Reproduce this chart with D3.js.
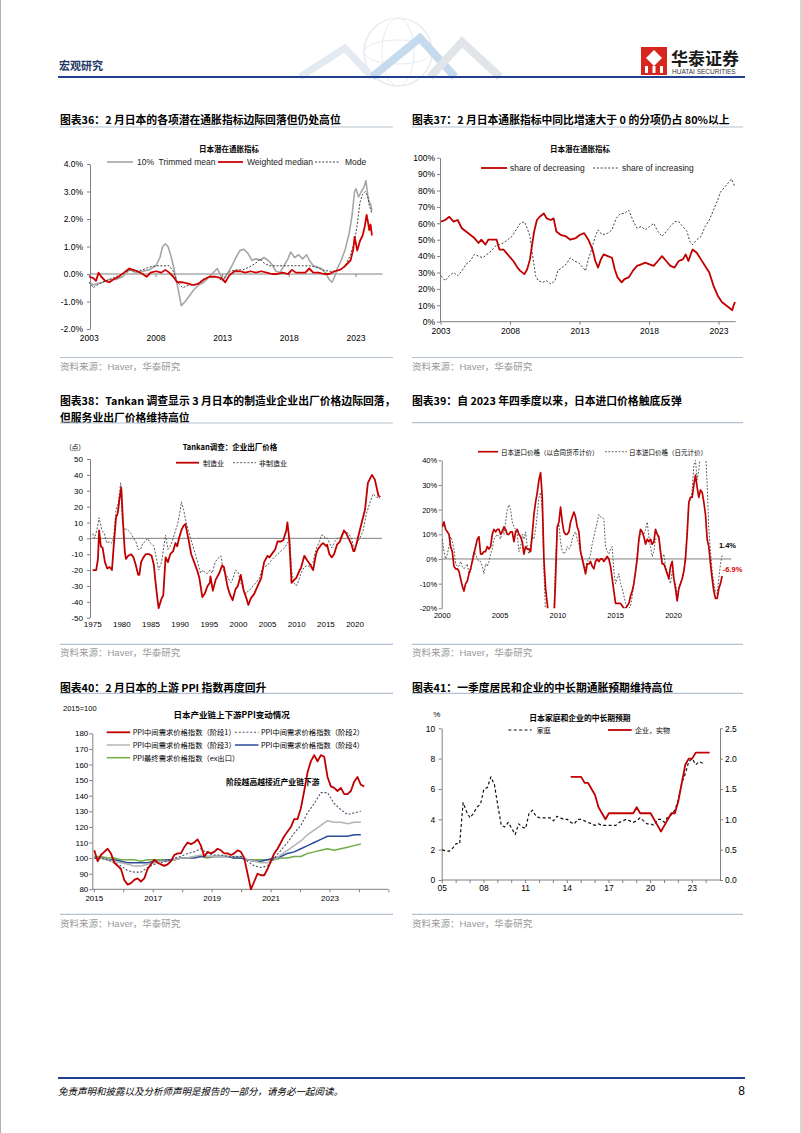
<!DOCTYPE html>
<html><head><meta charset="utf-8">
<script src="https://cdn.jsdelivr.net/npm/d3@7"></script>
<style>body{margin:0;background:#fff}svg{display:block}</style>
</head><body>
<script>
// ================= DATA =================
// Chart 36: Japan underlying inflation indicators (% yoy)
const years36 = [2003, 2008, 2013, 2018, 2023];
const ticks36 = [-2, -1, 0, 1, 2, 3, 4];
const trimmed36 = [[2003.0,-0.3],[2003.3,-0.4],[2003.6,-0.35],[2004.0,-0.3],[2004.5,-0.2],[2005.0,-0.2],[2005.5,-0.1],[2006.0,0.15],[2006.5,0.05],[2007.0,0.1],[2007.5,0.15],[2008.0,0.3],[2008.3,0.6],[2008.5,1.0],[2008.7,1.1],[2008.9,1.0],[2009.1,0.7],[2009.3,0.3],[2009.6,-0.4],[2009.9,-1.15],[2010.2,-1.0],[2010.5,-0.8],[2010.8,-0.6],[2011.2,-0.4],[2011.6,-0.3],[2012.0,-0.1],[2012.4,0.1],[2012.6,0.2],[2012.9,-0.1],[2013.1,-0.2],[2013.4,0.05],[2013.7,0.3],[2014.0,0.6],[2014.3,0.85],[2014.6,0.9],[2014.9,0.75],[2015.2,0.5],[2015.5,0.55],[2015.8,0.5],[2016.1,0.6],[2016.4,0.5],[2016.7,0.35],[2017.0,0.1],[2017.3,0.05],[2017.6,0.3],[2017.9,0.55],[2018.1,0.8],[2018.4,0.6],[2018.7,0.7],[2019.0,0.55],[2019.3,0.7],[2019.5,0.5],[2019.8,0.3],[2020.1,0.25],[2020.4,0.2],[2020.7,0.05],[2021.0,-0.2],[2021.2,-0.3],[2021.4,-0.1],[2021.6,0.2],[2021.9,0.5],[2022.2,0.9],[2022.5,1.5],[2022.7,2.1],[2022.9,3.0],[2023.0,3.1],[2023.2,2.8],[2023.4,3.0],[2023.6,3.15],[2023.75,3.4],[2023.9,2.8],[2024.0,2.6],[2024.1,2.55],[2024.2,2.3]];
const median36 = [[2003.0,-0.1],[2003.3,-0.15],[2003.5,-0.25],[2003.7,0.05],[2003.9,-0.1],[2004.2,-0.25],[2004.5,-0.3],[2004.8,-0.2],[2005.2,-0.1],[2005.6,0.05],[2006.0,0.2],[2006.3,0.15],[2006.6,0.1],[2007.0,0.0],[2007.3,-0.1],[2007.6,0.05],[2008.0,0.1],[2008.4,0.05],[2008.7,0.15],[2009.0,0.05],[2009.3,-0.1],[2009.6,-0.3],[2010.0,-0.3],[2010.4,-0.35],[2010.8,-0.4],[2011.2,-0.35],[2011.6,-0.2],[2012.0,-0.1],[2012.5,-0.1],[2012.9,-0.15],[2013.2,-0.3],[2013.5,-0.05],[2013.9,0.1],[2014.3,0.1],[2014.7,0.05],[2015.1,0.1],[2015.5,0.05],[2015.9,0.1],[2016.3,0.05],[2016.7,0.0],[2017.1,0.0],[2017.5,0.05],[2017.9,0.0],[2018.2,0.15],[2018.5,0.05],[2018.9,0.05],[2019.2,0.05],[2019.5,0.2],[2019.8,0.05],[2020.2,0.05],[2020.6,0.0],[2021.0,0.0],[2021.4,0.1],[2021.8,0.15],[2022.1,0.25],[2022.4,0.4],[2022.6,0.5],[2022.8,0.9],[2022.9,1.35],[2023.0,1.1],[2023.1,0.85],[2023.3,1.2],[2023.5,1.4],[2023.65,1.7],[2023.8,2.15],[2023.9,1.9],[2024.0,1.6],[2024.1,1.8],[2024.2,1.4]];
const mode36 = [[2003.0,-0.3],[2003.3,-0.5],[2003.6,-0.4],[2004.0,-0.3],[2004.5,-0.2],[2005.0,-0.1],[2005.5,0.0],[2006.0,0.15],[2006.5,0.1],[2007.0,0.15],[2007.5,0.25],[2008.0,0.3],[2008.5,0.3],[2009.0,0.3],[2009.3,0.1],[2009.6,-0.3],[2010.0,-0.5],[2010.5,-0.4],[2011.0,-0.4],[2011.5,-0.2],[2012.0,-0.1],[2012.5,-0.1],[2013.0,-0.25],[2013.3,0.0],[2013.6,0.1],[2014.0,0.15],[2014.5,0.15],[2015.0,0.25],[2015.5,0.4],[2015.8,0.55],[2016.1,0.4],[2016.5,0.3],[2017.0,0.3],[2017.5,0.3],[2018.0,0.3],[2018.5,0.3],[2019.0,0.3],[2019.5,0.3],[2020.0,0.25],[2020.5,0.15],[2021.0,0.1],[2021.5,0.1],[2022.0,0.2],[2022.3,0.4],[2022.6,0.7],[2022.9,1.2],[2023.1,1.8],[2023.3,2.6],[2023.5,2.9],[2023.7,3.0],[2023.9,2.8],[2024.0,2.5],[2024.2,2.2]];

// Chart 37: share of items decreasing / increasing (%)
const years37 = [2003, 2008, 2013, 2018, 2023];
const ticks37 = [0,10,20,30,40,50,60,70,80,90,100];
const decreasing37 = [[2003.0,61],[2003.3,62],[2003.6,64],[2003.9,61],[2004.2,62],[2004.5,57],[2004.8,55],[2005.1,53],[2005.4,51],[2005.7,48],[2005.9,50],[2006.2,47],[2006.4,50],[2006.7,50],[2007.0,50],[2007.2,44],[2007.5,44],[2007.7,42],[2007.9,40],[2008.2,37],[2008.5,33],[2008.7,31],[2009.0,29],[2009.2,32],[2009.4,38],[2009.5,44],[2009.7,55],[2009.9,62],[2010.1,64],[2010.4,66],[2010.6,63],[2010.9,62],[2011.1,63],[2011.3,55],[2011.6,53],[2012.0,52],[2012.3,50],[2012.7,51],[2013.0,53],[2013.3,54],[2013.6,50],[2013.9,44],[2014.1,37],[2014.3,33],[2014.5,38],[2014.7,41],[2015.0,40],[2015.3,39],[2015.5,32],[2015.7,27],[2016.0,24],[2016.2,26],[2016.5,27],[2016.8,31],[2017.1,34],[2017.4,35],[2017.7,36],[2018.0,35],[2018.3,34],[2018.6,37],[2018.9,40],[2019.2,37],[2019.5,34],[2019.8,33],[2020.1,37],[2020.4,38],[2020.6,41],[2020.8,37],[2021.0,42],[2021.1,44],[2021.4,42],[2021.7,38],[2022.0,34],[2022.3,30],[2022.6,22],[2022.9,16],[2023.2,12],[2023.5,10],[2023.8,8],[2023.95,7],[2024.05,10],[2024.15,12]];
const increasing37 = [[2003.0,28],[2003.3,25],[2003.6,28],[2003.9,30],[2004.2,28],[2004.5,31],[2004.8,35],[2005.1,37],[2005.4,41],[2005.7,40],[2006.0,39],[2006.3,41],[2006.6,43],[2006.9,46],[2007.2,47],[2007.5,48],[2007.8,50],[2008.1,52],[2008.4,56],[2008.7,60],[2009.0,61],[2009.2,57],[2009.4,52],[2009.6,40],[2009.8,28],[2010.0,25],[2010.3,24],[2010.6,25],[2010.9,23],[2011.2,25],[2011.4,31],[2011.7,33],[2012.0,35],[2012.3,39],[2012.6,37],[2012.9,36],[2013.2,33],[2013.4,31],[2013.6,38],[2013.9,46],[2014.1,52],[2014.3,56],[2014.6,53],[2015.0,54],[2015.3,56],[2015.6,63],[2015.9,66],[2016.2,66],[2016.5,68],[2016.8,62],[2017.1,57],[2017.4,58],[2017.7,56],[2018.0,58],[2018.3,60],[2018.6,55],[2018.9,52],[2019.2,55],[2019.5,58],[2019.8,61],[2020.1,61],[2020.4,58],[2020.7,55],[2020.9,49],[2021.1,47],[2021.4,50],[2021.7,52],[2022.0,58],[2022.3,62],[2022.6,68],[2022.9,74],[2023.1,79],[2023.4,82],[2023.7,85],[2023.9,87],[2024.05,84],[2024.15,82]];

// Chart 38: Tankan output prices DI
const years38 = [1975,1980,1985,1990,1995,2000,2005,2010,2015,2020];
const ticks38 = [-50,-40,-30,-20,-10,0,10,20,30,40,50];
const manuf38 = [[1975.0,-20],[1975.6,-20],[1975.9,-13],[1976.1,5],[1976.4,-5],[1976.7,-6],[1977.1,-15],[1977.5,-19],[1977.9,-18],[1978.3,-20],[1978.6,-5],[1979.0,13],[1979.3,16],[1979.6,25],[1979.9,32],[1980.2,10],[1980.5,-8],[1980.7,-13],[1981.1,-11],[1981.6,-10],[1982.0,-12],[1982.4,-17],[1982.8,-23],[1983.0,-23],[1983.3,-15],[1983.7,-12],[1984.1,-10],[1984.7,-10],[1985.1,-11],[1985.5,-17],[1985.7,-25],[1986.0,-35],[1986.3,-44],[1986.8,-38],[1987.1,-36],[1987.5,-12],[1987.9,-15],[1988.3,-10],[1988.8,-8],[1989.2,-3],[1989.5,-5],[1989.8,0],[1990.2,5],[1990.6,8],[1990.9,9],[1991.4,0],[1991.9,-10],[1992.4,-15],[1992.9,-20],[1993.3,-25],[1993.8,-37],[1994.2,-35],[1994.7,-30],[1995.1,-28],[1995.2,-24],[1995.6,-33],[1996.1,-26],[1996.7,-22],[1997.2,-17],[1997.5,-18],[1998.1,-30],[1998.5,-35],[1999.0,-39],[1999.5,-32],[1999.9,-30],[2000.4,-23],[2000.9,-33],[2001.3,-37],[2001.7,-42],[2002.1,-38],[2002.7,-35],[2003.3,-30],[2003.9,-25],[2004.4,-15],[2005.0,-11],[2005.3,-12],[2005.9,-9],[2006.3,-7],[2006.7,-2],[2007.3,-2],[2007.7,-1],[2008.2,5],[2008.4,10],[2008.7,0],[2009.1,-28],[2009.6,-26],[2009.9,-25],[2010.5,-20],[2010.7,-19],[2011.3,-11],[2011.8,-14],[2012.2,-16],[2012.8,-20],[2013.3,-10],[2013.6,-7],[2014.2,-4],[2014.5,-3],[2015.1,-5],[2015.2,-4],[2015.6,-10],[2016.0,-12],[2016.4,-10],[2016.9,-4],[2017.4,-2],[2017.6,0],[2018.1,5],[2018.5,3],[2018.9,0],[2019.4,-4],[2019.7,-8],[2019.9,-8],[2020.2,-4],[2020.8,5],[2021.7,18],[2022.2,35],[2022.9,40],[2023.4,37],[2024.0,27],[2024.3,26]];
const nonmanuf38 = [[1975.0,3],[1975.3,0],[1975.7,5],[1976.1,13],[1976.6,5],[1977.0,3],[1977.4,-3],[1977.9,-2],[1978.3,-3],[1978.6,0],[1979.0,18],[1979.4,22],[1979.8,35],[1980.1,10],[1980.4,5],[1980.7,6],[1981.1,5],[1981.6,3],[1982.0,0],[1982.4,-2],[1982.8,-7],[1983.2,-7],[1983.6,-3],[1984.0,-2],[1984.4,0],[1984.9,-3],[1985.5,-5],[1985.9,-12],[1986.3,-20],[1986.8,-15],[1987.2,-5],[1987.5,2],[1987.9,-7],[1988.3,-5],[1988.8,0],[1989.2,5],[1989.5,8],[1989.9,15],[1990.2,23],[1990.6,18],[1990.9,12],[1991.4,5],[1991.8,0],[1992.2,-5],[1992.6,-10],[1993.0,-15],[1993.5,-22],[1993.9,-20],[1994.4,-22],[1994.7,-22],[1995.1,-20],[1995.5,-22],[1996.0,-15],[1996.4,-13],[1997.0,-11],[1997.4,-20],[1997.8,-22],[1998.2,-25],[1998.7,-28],[1999.1,-25],[1999.5,-20],[1999.9,-21],[2000.4,-28],[2000.8,-32],[2001.3,-35],[2001.7,-33],[2002.1,-32],[2002.5,-30],[2003.0,-28],[2003.6,-25],[2004.0,-20],[2004.4,-18],[2005.0,-17],[2005.6,-14],[2006.1,-12],[2006.7,-10],[2007.3,-8],[2007.9,-6],[2008.4,-3],[2008.8,0],[2009.1,-20],[2009.5,-28],[2009.9,-30],[2010.3,-27],[2010.7,-22],[2011.3,-18],[2011.8,-17],[2012.2,-18],[2012.8,-15],[2013.3,-7],[2013.9,-2],[2014.2,2],[2014.6,2],[2014.9,0],[2015.3,0],[2015.6,-3],[2016.0,-6],[2016.5,-2],[2016.9,0],[2017.4,0],[2017.6,2],[2018.1,4],[2018.5,4],[2018.9,3],[2019.4,0],[2019.7,-5],[2019.9,-7],[2020.2,-4],[2020.8,0],[2021.4,5],[2021.9,15],[2022.5,22],[2023.1,28],[2023.7,26],[2024.3,25]];

// Chart 39: Japan import prices yoy (%), readings every ~1.7 months from Jan 2000
const start39 = 2000, step39 = 0.1441;
const years39 = [2000, 2005, 2010, 2015, 2020];
const ticks39 = [-20, -10, 0, 10, 20, 30, 40];
const contract39 = [13,15,12,11,10,5,3,-3,-4,-4,-5,-8,-11,-13,-10,-9,-6,-4,-1,2,5,8,9,2,2,3,3,5,4,5,10,12,11,12,12,10,11,13,12,10,10,11,11,7,11,12,10,9,7,2,5,4,4,3,10,18,23,27,32,35,25,0,-12,-18,-25,-30,-30,-25,-8,13,15,21,15,11,10,10,11,15,17,19,17,13,11,3,0,-3,-6,-2,-2,-1,-3,-4,-1,0,-1,0,0,-1,0,1,0,-3,-8,-13,-18,-18,-18,-18,-19,-20,-20,-19,-18,-15,-13,-10,-5,0,8,12,11,9,6,8,7,8,6,7,12,10,9,3,-2,-2,-4,-6,-8,-3,-1,-8,-12,-17,-12,-10,-8,-5,0,10,23,25,25,30,34,29,25,28,27,23,18,8,5,-2,-8,-13,-16,-16,-12,-10,-6.9];
const yen39 = [8,3,0,2,5,9,7,4,-2,-3,-3,-1,-3,-4,-3,-2,-6,-5,0,3,2,0,-1,-1,-3,-6,-2,-3,-1,2,4,8,9,10,9,8,12,10,15,20,22,20,15,13,12,10,3,5,10,8,11,5,2,6,9,8,12,18,25,27,20,-5,-22,-28,-30,-30,-28,-22,0,12,14,7,3,2,3,5,4,5,8,10,11,8,6,3,1,-2,-4,-1,0,2,6,9,12,15,18,17,17,16,5,3,2,4,5,-5,-10,-8,-6,-10,-12,-15,-18,-19,-20,-19,-15,-10,-5,2,7,10,11,10,12,15,9,5,1,3,8,9,9,2,0,2,-3,-5,-8,-10,-5,-8,-10,-15,-12,-10,-8,-5,2,12,23,24,28,38,40,32,36,45,48,46,44,30,12,3,-5,-10,-13,-14,-8,-2,1.4];

// Chart 40: PPI by stage (2015=100)
const years40 = [2015, 2017, 2019, 2021, 2023];
const ticks40 = [80,90,100,110,120,130,140,150,160,170,180];
const start40 = 2015, stepFine40 = 0.1131, stepCoarse40 = 0.2262;
const stage1_40 = [105,98,102,104,106,103,97,95,93,86,83,84,86,87,85,87,93,96,99,97,96,95,96,98,102,103,103,107,110,109,110,112,108,101,104,103,104,106,105,103,103,102,103,105,104,100,90,80,85,90,89,89,93,98,103,106,110,114,117,120,125,125,132,143,155,162,166,162,166,165,152,146,145,143,145,141,141,143,149,152,147,146];
const stage2_40 = [100,100,99,97,95,92,91,91,94,96,97,98,100,101,103,104,106,103,102,102,101,101,101,98,95,94,95,100,105,110,116,121,129,135,142,142,135,131,128,129,130];
const stage3_40 = [100,100,99,98,97,96,95,95,96,97,98,98,99,100,100,101,102,101,101,101,101,101,101,99,98,97,97,99,102,105,108,111,115,118,121,124,123,123,122,123,123];
const stage4_40 = [100,100,99,99,98,97,97,97,97,98,98,99,99,100,100,100,101,101,101,101,101,100,100,99,98,98,99,100,101,103,104,106,108,110,112,114,114,114,114,115,115];
const final40 = [101,101,100,100,99,99,99,98,99,99,99,99,99,100,100,101,101,100,101,101,101,100,100,99,99,99,99,99,100,100,101,101,103,104,105,106,105,106,107,108,109];

// Chart 41: medium/long-term inflation expectations (quarterly)
const labels41 = ['05','08','11','14','17','20','23'];
const labelYears41 = [2005, 2008, 2011, 2014, 2017, 2020, 2023];
const ticksLeft41 = [0,2,4,6,8,10];
const ticksRight41 = [0,0.5,1.0,1.5,2.0,2.5];
const startHH41 = 2005, startFirm41 = 2014.25, qStep41 = 0.25;
const household41 = [2.0,1.9,1.9,2.1,2.4,2.4,5.1,4.5,4.1,4.4,4.8,5.0,6.0,6.1,6.8,6.3,4.9,3.6,3.5,3.8,3.4,3.0,3.7,3.5,3.4,4.4,4.6,4.2,4.1,4.1,4.1,4.1,3.9,4.2,4.1,4.0,4.0,3.8,3.7,4.0,4.0,3.9,3.8,3.7,3.6,3.7,3.6,3.6,3.6,3.6,3.6,3.8,3.9,4.0,3.9,3.8,3.9,4.1,3.9,3.7,3.7,3.6,4.0,4.0,3.8,4.2,4.3,4.6,5.3,6.4,7.0,7.8,8.0,7.6,7.8,7.7];
const firms41 = [1.7,1.7,1.7,1.7,1.6,1.6,1.5,1.4,1.2,1.1,1.0,1.1,1.1,1.1,1.1,1.1,1.1,1.1,1.1,1.2,1.1,1.1,1.1,1.1,1.0,0.9,0.8,0.9,1.0,1.1,1.1,1.3,1.6,1.9,2.0,2.0,2.1,2.1,2.1,2.1,2.1];

// ================= DRAWING =================
const CN = '"Noto Sans CJK SC","Noto Sans",sans-serif';
const LAT = '"Liberation Sans",Arial,"Noto Sans CJK SC",sans-serif';
const RED = '#c00000';
const svg = d3.select('body').append('svg').attr('width', 802).attr('height', 1133);

function text(g, x, y, s, o = {}) {
  return g.append('text').attr('x', x).attr('y', y).text(s)
    .attr('dominant-baseline', 'central')
    .attr('text-anchor', o.anchor || 'start')
    .attr('font-family', o.family || CN)
    .attr('font-size', o.size || 10)
    .attr('font-weight', o.weight || 'normal')
    .attr('font-style', o.style || 'normal')
    .attr('fill', o.fill || '#000')
    .style('white-space', 'pre');
}
function hline(g, x1, x2, y, color, w, dash) {
  const l = g.append('line').attr('x1', x1).attr('x2', x2).attr('y1', y).attr('y2', y)
    .attr('stroke', color).attr('stroke-width', w || 1);
  if (dash) l.attr('stroke-dasharray', dash);
  return l;
}
function yAxis(g, scale, x, vals, fmt, o = {}) {
  const ax = (o.right ? d3.axisRight(scale) : d3.axisLeft(scale))
    .tickValues(vals).tickFormat(fmt).tickSize(o.tick || 3).tickSizeOuter(0).tickPadding(o.pad == null ? 3 : o.pad);
  const a = g.append('g').attr('transform', `translate(${x},0)`).call(ax);
  a.select('.domain').attr('stroke', o.color || '#808080');
  a.selectAll('.tick line').attr('stroke', o.color || '#808080');
  a.selectAll('text').attr('font-family', LAT).attr('font-size', o.size || 8.5).attr('fill', '#000');
  return a;
}
function xLabels(g, scale, vals, y, o = {}) {
  vals.forEach((v, i) => text(g, scale(v), y, o.labels ? o.labels[i] : String(v),
    { anchor: 'middle', family: LAT, size: o.size || 8.5 }));
}
function xTicks(g, scale, vals, y, len, color) {
  vals.forEach(v => g.append('line').attr('x1', scale(v)).attr('x2', scale(v))
    .attr('y1', y).attr('y2', y + len).attr('stroke', color || '#808080'));
}
function path(g, data, xs, ys, color, w, dash, clip) {
  const p = g.append('path').datum(data)
    .attr('d', d3.line().x(d => xs(d[0])).y(d => ys(d[1])))
    .attr('fill', 'none').attr('stroke', color).attr('stroke-width', w)
    .attr('stroke-linejoin', 'round');
  if (dash) p.attr('stroke-dasharray', dash);
  if (clip) p.attr('clip-path', `url(#${clip})`);
  return p;
}
function legendLine(g, x1, x2, y, color, w, dash) { return hline(g, x1, x2, y, color, w, dash); }
const pct = v => (v < 0 ? '-' : '') + Math.abs(v).toFixed(1) + '%';
const toPairs = (arr, start, step) => arr.map((v, i) => [start + i * step, v]);

const TITLE_BLUE = '#b3c2d2';
function sectionFrame(x1, x2, titleLines, titleY, underlineY, srcLineY, srcY) {
  const g = svg.append('g');
  titleLines.forEach((t, i) => text(g, x1, titleY + i * 17, t, { size: 10.8, weight: 'bold' }));
  hline(g, x1, x2, underlineY, TITLE_BLUE, 1.2);
  hline(g, x1, x2, srcLineY, TITLE_BLUE, 1.2);
  text(g, x1, srcY, '资料来源：Haver，华泰研究', { size: 9.5, fill: '#9a9a9a', family: LAT });
  return g;
}

// ---------- page header / footer ----------
(function () {
  const g = svg.append('g');
  g.append('line').attr('x1', 0.5).attr('x2', 0.5).attr('y1', 0).attr('y2', 1133).attr('stroke', '#b0b0b0');
  g.append('line').attr('x1', 801).attr('x2', 801).attr('y1', 0).attr('y2', 1133).attr('stroke', '#b0b0b0');
  // decorative globe
  const dg = g.append('g').attr('opacity', 0.5);
  dg.append('circle').attr('cx', 398).attr('cy', 52).attr('r', 34).attr('fill', 'none').attr('stroke', '#c9d3dd').attr('stroke-width', 1.2);
  dg.append('ellipse').attr('cx', 398).attr('cy', 52).attr('rx', 16).attr('ry', 34).attr('fill', 'none').attr('stroke', '#d2dae3');
  dg.append('ellipse').attr('cx', 398).attr('cy', 52).attr('rx', 34).attr('ry', 12).attr('fill', 'none').attr('stroke', '#d2dae3');
  dg.append('polyline').attr('points', '300,77 345,48 372,77').attr('fill', 'none').attr('stroke', '#c8d6e6').attr('stroke-width', 7);
  dg.append('polyline').attr('points', '372,77 420,38 455,77').attr('fill', 'none').attr('stroke', '#8fb7df').attr('stroke-width', 8);
  dg.append('polyline').attr('points', '430,77 462,42 500,77').attr('fill', 'none').attr('stroke', '#c4cbd3').attr('stroke-width', 8);
  text(g, 59, 65, '宏观研究', { size: 11, fill: '#1f3864', weight: 'bold' });
  // logo
  g.append('rect').attr('x', 641).attr('y', 47).attr('width', 26).attr('height', 28).attr('fill', '#d7261e');
  g.append('path').attr('d', 'M654,50 L662,58 L654,66 L646,58 Z').attr('fill', '#fff');
  g.append('rect').attr('x', 645).attr('y', 66).attr('width', 3).attr('height', 7).attr('fill', '#fff');
  g.append('rect').attr('x', 652.5).attr('y', 66).attr('width', 3).attr('height', 7).attr('fill', '#fff');
  g.append('rect').attr('x', 660).attr('y', 66).attr('width', 3).attr('height', 7).attr('fill', '#fff');
  text(g, 671, 57, '华泰证券', { size: 17, weight: 'bold', fill: '#1a1a1a' });
  text(g, 672, 71, 'HUATAI SECURITIES', { size: 6.5, family: LAT, fill: '#333' });
  hline(g, 58, 745, 77, '#1f3f8f', 2);
  hline(g, 58, 745, 1078, '#1f3f8f', 2);
  text(g, 58, 1091, '免责声明和披露以及分析师声明是报告的一部分，请务必一起阅读。', { size: 9.5, style: 'italic' });
  text(g, 745, 1091, '8', { size: 12, anchor: 'end', family: LAT });
})();

// ---------- Chart 36 ----------
(function () {
  const g = sectionFrame(60, 393, ['图表36：2 月日本的各项潜在通胀指标边际回落但仍处高位'], 119, 127, 357.5, 366);
  const x = d3.scaleLinear().domain([2003, 2025]).range([89.3, 382.6]);
  const y = d3.scaleLinear().domain([-2, 4]).range([329, 164]);
  yAxis(g, y, 90, ticks36, pct, { pad: 4 });
  hline(g, 90, x.range()[1], y(0), '#808080', 1);
  xTicks(g, x, years36, y(0), 3);
  xLabels(g, x, years36, 338);
  text(g, 229, 148, '日本潜在通胀指标', { size: 7.5, weight: 'bold', anchor: 'middle' });
  path(g, trimmed36, x, y, '#a6a6a6', 1.6);
  path(g, mode36, x, y, '#404040', 1, '2,1.6');
  path(g, median36, x, y, '#d00000', 1.8);
  legendLine(g, 107, 133, 162, '#a6a6a6', 1.6);
  text(g, 137, 162, '10%\u00a0 Trimmed mean', { size: 8.5, family: LAT, fill: '#222' });
  legendLine(g, 218, 243, 162, '#d00000', 1.8);
  text(g, 247, 162, 'Weighted median', { size: 8.5, family: LAT, fill: '#222' });
  legendLine(g, 315, 339, 162, '#404040', 1, '2,1.6');
  text(g, 345, 162, 'Mode', { size: 8.5, family: LAT, fill: '#222' });
})();

// ---------- Chart 37 ----------
(function () {
  const g = sectionFrame(412, 743, ['图表37：2 月日本通胀指标中同比增速大于 0 的分项仍占 80%以上'], 119, 127, 357.5, 366);
  const x = d3.scaleLinear().domain([2003, 2024.2]).range([441, 735.7]);
  const y = d3.scaleLinear().domain([0, 100]).range([321.7, 157.7]);
  yAxis(g, y, 440, ticks37, v => v + '%', { pad: 2 });
  hline(g, 440, x.range()[1], y(0), '#808080', 1);
  xTicks(g, x, years37, y(0), 3);
  xLabels(g, x, years37, 331);
  text(g, 580, 148, '日本潜在通胀指标', { size: 7.5, weight: 'bold', anchor: 'middle' });
  path(g, increasing37, x, y, '#404040', 1, '2,1.8');
  path(g, decreasing37, x, y, RED, 1.8);
  legendLine(g, 481, 507, 168, RED, 1.8);
  text(g, 510, 168, 'share of decreasing', { size: 8.5, family: LAT, fill: '#222' });
  legendLine(g, 593, 618, 168, '#404040', 1, '2,1.8');
  text(g, 622, 168, 'share of increasing', { size: 8.5, family: LAT, fill: '#222' });
})();

// ---------- Chart 38 ----------
(function () {
  const g = sectionFrame(60, 393, ['图表38：Tankan 调查显示 3 月日本的制造业企业出厂价格边际回落，', '但服务业出厂价格维持高位'], 400, 423, 644.3, 652);
  const x = d3.scaleLinear().domain([1975, 2024.62]).range([92.7, 382]);
  const y = d3.scaleLinear().domain([-50, 50]).range([617.7, 459]);
  yAxis(g, y, 90, ticks38, d => String(d), { pad: 4, size: 8 });
  hline(g, 90, x.range()[1], y(0), '#808080', 1);
  xLabels(g, x, years38, 624.3, { size: 8 });
  text(g, 75, 447, '(点)', { size: 7, anchor: 'middle' });
  text(g, 230, 446, 'Tankan调查：企业出厂价格', { size: 7.5, weight: 'bold', anchor: 'middle' });
  path(g, nonmanuf38, x, y, '#595959', 1, '2,1.6');
  path(g, manuf38, x, y, RED, 1.8);
  legendLine(g, 176, 199, 462.7, RED, 1.8);
  text(g, 203, 462.7, '制造业', { size: 7 });
  legendLine(g, 233, 256, 462.7, '#595959', 1, '2,1.6');
  text(g, 259, 462.7, '非制造业', { size: 7 });
})();

// ---------- Chart 39 ----------
(function () {
  const g = sectionFrame(412, 743, ['图表39：自 2023 年四季度以来，日本进口价格触底反弹'], 400, 422.7, 644.3, 652);
  const x = d3.scaleLinear().domain([2000, 2025]).range([442.3, 731.3]);
  const y = d3.scaleLinear().domain([-20, 40]).range([608.3, 460.3]);
  svg.append('clipPath').attr('id', 'clip39').append('rect')
    .attr('x', 442).attr('y', y(40)).attr('width', 300).attr('height', y(-20) - y(40));
  yAxis(g, y, 441.7, ticks39, v => v + '%', { pad: 1.5, size: 7.5 });
  hline(g, 441.7, x.range()[1], y(0), '#808080', 1);
  xLabels(g, x, years39, 615, { size: 7.5 });
  path(g, toPairs(yen39, start39, step39), x, y, '#5a5a5a', 1, '1.8,1.6', 'clip39');
  path(g, toPairs(contract39, start39, step39), x, y, RED, 1.7, null, 'clip39');
  legendLine(g, 478, 498, 451.7, RED, 1.7);
  text(g, 501, 451.7, '日本进口价格（以合同货币计价）', { size: 6.5 });
  legendLine(g, 605, 627, 451.7, '#5a5a5a', 1, '1.8,1.6');
  text(g, 629, 451.7, '日本进口价格（日元计价）', { size: 6.5 });
  const lastYen = yen39[yen39.length - 1], lastC = contract39[contract39.length - 1];
  text(g, 727.5, 545.7, lastYen.toFixed(1) + '%', { size: 7.5, weight: 'bold', anchor: 'middle', family: LAT });
  text(g, 732.5, 569, lastC.toFixed(1) + '%', { size: 7.5, weight: 'bold', anchor: 'middle', family: LAT, fill: '#e00000' });
})();

// ---------- Chart 40 ----------
(function () {
  const g = sectionFrame(60, 393, ['图表40：2 月日本的上游 PPI 指数再度回升'], 686.7, 693.3, 914.3, 923);
  const x = d3.scaleLinear().domain([2015, 2025]).range([94.3, 388.9]);
  const y = d3.scaleLinear().domain([80, 180]).range([889.3, 733.3]);
  yAxis(g, y, 92.3, ticks40, d => String(d), { pad: 1, size: 8 });
  hline(g, 92.3, 388, y(80), '#808080', 1);
  xTicks(g, x, d3.range(2015, 2026, 1), y(80), 3);
  xLabels(g, x, years40, 898, { size: 8 });
  text(g, 63, 708, '2015=100', { size: 7.5, family: LAT });
  text(g, 231.7, 714, '日本产业链上下游PPI变动情况', { size: 8.5, weight: 'bold', anchor: 'middle' });
  const cols = { s1: RED, s2: '#44546a', s3: '#b4b4b4', s4: '#2b4d9c', fin: '#70ad47' };
  path(g, toPairs(final40, start40, stepCoarse40), x, y, cols.fin, 1.5);
  path(g, toPairs(stage4_40, start40, stepCoarse40), x, y, cols.s4, 1.5);
  path(g, toPairs(stage3_40, start40, stepCoarse40), x, y, cols.s3, 1.5);
  path(g, toPairs(stage2_40, start40, stepCoarse40), x, y, cols.s2, 1.1, '2,1.8');
  path(g, toPairs(stage1_40, start40, stepFine40), x, y, cols.s1, 1.8);
  const lg = [
    [106.7, 732.3, cols.s1, 1.8, null, 'PPI中间需求价格指数（阶段1）'],
    [235, 732.3, cols.s2, 1.1, '2,1.8', 'PPI中间需求价格指数（阶段2）'],
    [106.7, 745, cols.s3, 1.5, null, 'PPI中间需求价格指数（阶段3）'],
    [235, 745, cols.s4, 1.5, null, 'PPI中间需求价格指数（阶段4）'],
    [106.7, 757.7, cols.fin, 1.5, null, 'PPI最终需求价格指数（ex出口）']
  ];
  lg.forEach(d => { legendLine(g, d[0], d[0] + 23.5, d[1], d[2], d[3], d[4]); text(g, d[0] + 26, d[1], d[5], { size: 7.3 }); });
  text(g, 226, 781.7, '阶段越高越接近产业链下游', { size: 7.8, weight: 'bold' });
})();

// ---------- Chart 41 ----------
(function () {
  const g = sectionFrame(412, 743, ['图表41：一季度居民和企业的中长期通胀预期维持高位'], 686.7, 693.3, 914.3, 923);
  const x = d3.scaleLinear().domain([2005, 2025]).range([442.3, 720]);
  const yL = d3.scaleLinear().domain([0, 10]).range([880, 728.3]);
  const yR = d3.scaleLinear().domain([0, 2.5]).range([880, 728.3]);
  yAxis(g, yL, 441.7, ticksLeft41, d => String(d), { pad: 3.5, size: 8.5 });
  yAxis(g, yR, 720, ticksRight41, d => d.toFixed(1), { right: true, pad: 2, size: 8.5 });
  hline(g, 441.7, 720, yL(0), '#808080', 1);
  xTicks(g, x, d3.range(2005, 2025, 1), yL(0), 3);
  xLabels(g, x, labelYears41, 887.7, { labels: labels41, size: 8.5 });
  text(g, 436.7, 714.3, '%', { size: 8, anchor: 'middle', family: LAT });
  text(g, 580, 717.7, '日本家庭和企业的中长期预期', { size: 7.8, weight: 'bold', anchor: 'middle' });
  path(g, toPairs(household41, startHH41, qStep41), x, yL, '#111', 1.2, '3,2.4');
  path(g, toPairs(firms41, startFirm41, qStep41), x, yR, RED, 1.8);
  legendLine(g, 508.3, 531.7, 730, '#111', 1.2, '3,2.4');
  text(g, 536.7, 730, '家庭', { size: 7 });
  legendLine(g, 608, 631.7, 730, RED, 1.8);
  text(g, 635, 730, '企业，实物', { size: 7 });
})();
</script>
</body></html>
